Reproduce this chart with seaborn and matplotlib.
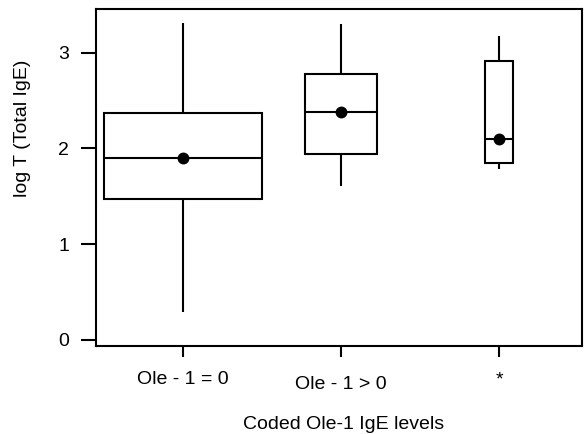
import numpy as np
import pandas as pd
import matplotlib
matplotlib.use("Agg")
import matplotlib.pyplot as plt
import matplotlib.transforms as mtransforms
import seaborn as sns

# ---- data ----
categories = ["Ole - 1 = 0", "Ole - 1 > 0", "*"]
lower_whisker = [0.29, 1.61, 1.78]
q1_values = [1.47, 1.94, 1.85]
median_values = [1.90, 2.38, 2.10]
q3_values = [2.37, 2.78, 2.91]
upper_whisker = [3.31, 3.30, 3.17]
mean_values = [1.90, 2.38, 2.10]
y_ticks = [0, 1, 2, 3]
x_label = "Coded Ole-1 IgE levels"
y_label = "log T (Total IgE)"

# ---- style ----
box_widths = [1.0, 0.46, 0.18]

sns.set_style("ticks")
plt.rcParams["font.family"] = ["Liberation Sans", "DejaVu Sans"]
plt.rcParams["axes.edgecolor"] = "black"
plt.rcParams["axes.linewidth"] = 1.5

fig = plt.figure(figsize=(5.85, 4.34), dpi=100)
ax = fig.add_axes([96 / 585, 1 - 346 / 434, (582 - 96) / 585, (346 - 9) / 434])

rows = []
for c, lo, a, m, b, hi in zip(categories, lower_whisker, q1_values, median_values, q3_values, upper_whisker):
    for v in (lo, a, m, b, hi):
        rows.append({"group": c, "value": v})
df = pd.DataFrame(rows)

for c, w in zip(categories, box_widths):
    sub = df[df["group"] == c]
    sns.boxplot(data=sub, x="group", y="value", order=categories, width=w,
                whis=(0, 100), showcaps=False, fliersize=0, color="white",
                linecolor="black", linewidth=1.5, saturation=1, ax=ax)

mean_df = pd.DataFrame({"group": categories, "mean": mean_values})
sns.pointplot(data=mean_df, x="group", y="mean", order=categories, color="black",
              linestyle="none", markers="o", markersize=6.5, errorbar=None, ax=ax)

ax.set_xlim(-0.551, 2.525)
ax.set_ylim(-0.063, 3.455)
ax.set_yticks(y_ticks)
ax.set_yticklabels([str(t) for t in y_ticks])
ax.set_xticks(range(len(categories)))
ax.set_xticklabels(categories)

for s in ax.spines.values():
    s.set_visible(True)
    s.set_color("black")
    s.set_linewidth(1.5)

ax.tick_params(axis="y", length=11, width=1.5, pad=8.5, labelsize=14, colors="black")
ax.tick_params(axis="x", length=8, width=1.5, pad=10, labelsize=14, colors="black")

# second tick label sits a little lower in the reference
lbl = ax.get_xticklabels()[1]
lbl.set_transform(lbl.get_transform() + mtransforms.ScaledTranslation(0, -0.05, fig.dpi_scale_trans))

ax.set_xlabel(x_label, fontsize=14, color="black")
ax.set_ylabel(y_label, fontsize=14, color="black")
ax.xaxis.set_label_coords(0.51, -0.208)
ax.yaxis.set_label_coords(-0.133, 0.647)

fig.savefig("out.png", dpi=100)
